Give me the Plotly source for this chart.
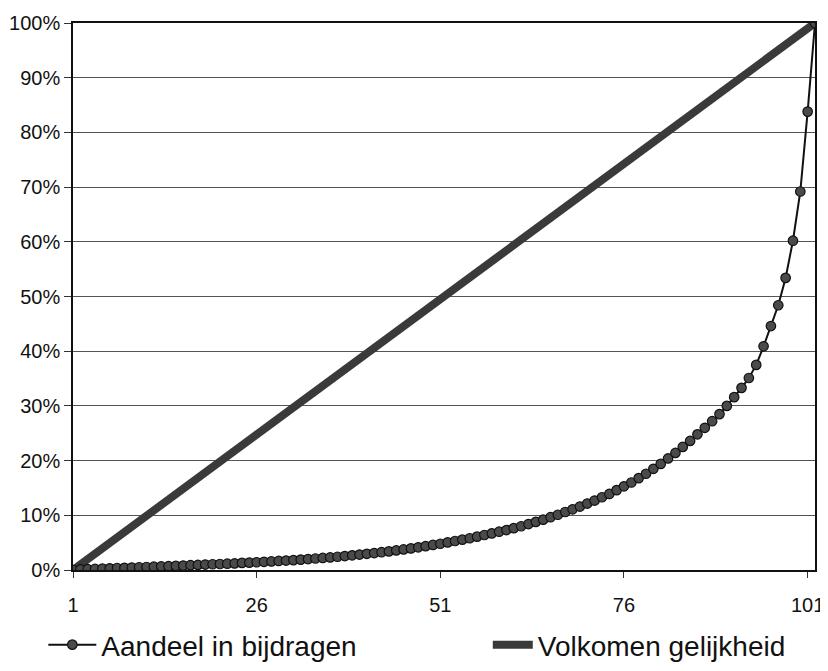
import plotly.graph_objects as go

# Categories (population share index) 1..102
categories = list(range(1, 103))

# Cumulative share of contributions (%)
aandeel_pct = [
    0.0, 0.1, 0.15, 0.2, 0.25, 0.3, 0.37, 0.4, 0.45,
    0.5, 0.55, 0.6, 0.65, 0.7, 0.75, 0.8, 0.88, 0.93, 1.0,
    1.05, 1.1, 1.15, 1.2, 1.3, 1.35, 1.42, 1.5, 1.57, 1.65,
    1.72, 1.8, 1.9, 2.0, 2.1, 2.2, 2.3, 2.42, 2.55, 2.68,
    2.82, 2.96, 3.1, 3.25, 3.4, 3.58, 3.76, 3.95, 4.15, 4.36,
    4.58, 4.8, 5.05, 5.3, 5.55, 5.8, 6.1, 6.4, 6.7, 7.0,
    7.3, 7.65, 8.0, 8.4, 8.8, 9.2, 9.65, 10.1, 10.6, 11.1,
    11.6, 12.15, 12.7, 13.3, 13.9, 14.6, 15.3, 16.0, 16.8, 17.6,
    18.5, 19.4, 20.4, 21.4, 22.5, 23.6, 24.8, 26.0, 27.2, 28.5,
    30.0, 31.6, 33.3, 35.1, 37.5, 40.9, 44.6, 48.4, 53.4, 60.2,
    69.2, 83.8, 100.0,
]

# Perfect equality line endpoints
gelijk_x = [1, 102]
gelijk_pct = [0.0, 100.0]

x_tick_vals = [1, 26, 51, 76, 101]
x_tick_text = ["1", "26", "51", "76", "101"]

FONT = "Liberation Sans, Arial, sans-serif"

fig = go.Figure()

fig.add_trace(go.Scatter(
    x=gelijk_x, y=[v / 100 for v in gelijk_pct],
    mode="lines", name="Volkomen gelijkheid",
    line=dict(color="#3a3a3a", width=8),
    legend="legend2",
))

fig.add_trace(go.Scatter(
    x=categories, y=[v / 100 for v in aandeel_pct],
    mode="lines+markers", name="Aandeel in bijdragen",
    line=dict(color="#111111", width=2),
    marker=dict(symbol="circle", size=9.5, color="#4a4a4a",
                line=dict(color="#111111", width=1.2)),
    legend="legend",
))

legend_common = dict(
    orientation="h", yanchor="middle", xanchor="left",
    font=dict(size=28, family=FONT, color="#111111"),
    bgcolor="rgba(0,0,0,0)", borderwidth=0,
)

# The page adds an 8px body margin, so the figure is sized to fit inside it.
fig.update_layout(
    width=820, height=663,
    margin=dict(l=65, r=13, t=15, b=101, autoexpand=False),
    paper_bgcolor="white", plot_bgcolor="white",
    font=dict(family=FONT, color="#111111", size=20),
    showlegend=True,
    legend=dict(x=-0.040, y=-0.137, itemwidth=48, **legend_common),
    legend2=dict(x=0.559, y=-0.137, itemwidth=40, **legend_common),
)

fig.update_xaxes(
    range=[1, 102], tickmode="array", tickvals=x_tick_vals, ticktext=x_tick_text,
    showgrid=False, zeroline=False,
    showline=True, linecolor="#111111", linewidth=1.5, mirror=True,
    ticks="outside", ticklen=6, tickcolor="#333333", tickwidth=1,
    tickfont=dict(size=20, family=FONT), ticklabelstandoff=10,
)

fig.update_yaxes(
    range=[0, 1], dtick=0.1, tickformat=".0%",
    showgrid=True, gridcolor="#555555", gridwidth=1, zeroline=False,
    showline=True, linecolor="#111111", linewidth=1.5, mirror=True,
    ticks="outside", ticklen=7, tickcolor="#333333", tickwidth=1,
    tickfont=dict(size=20, family=FONT),
)

fig.write_html("out.html")
